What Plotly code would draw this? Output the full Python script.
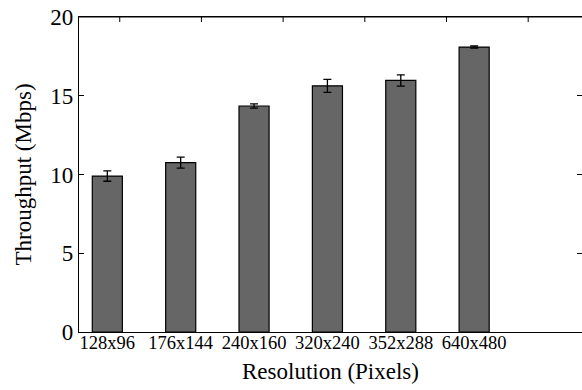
import plotly.graph_objects as go

# Throughput measured per video resolution (mean and spread)
resolutions = ["128x96", "176x144", "240x160", "320x240", "352x288", "640x480"]
throughput_mbps = [9.9, 10.75, 14.35, 15.63, 15.97, 18.09]
throughput_err = [0.33, 0.35, 0.13, 0.41, 0.36, 0.07]
y_ticks = [0, 5, 10, 15, 20]

FONT = "Liberation Serif"

fig = go.Figure()
fig.add_trace(go.Bar(
    x=list(range(len(resolutions))),
    y=throughput_mbps,
    width=0.41,
    marker=dict(color="#666666", line=dict(color="black", width=1.2)),
    error_y=dict(type="data", array=throughput_err, visible=True,
                 color="black", thickness=1.3, width=4),
))

# top frame line plus its short inward tick marks (paper coordinates)
fig.add_shape(type="line", xref="paper", yref="paper", x0=0, x1=1, y0=1, y1=1,
              line=dict(color="black", width=1.2))
top_tick_start, top_tick_step, top_tick_len = 0.081, 0.1624, 0.016
for k in range(6):
    xp = top_tick_start + k * top_tick_step
    fig.add_shape(type="line", xref="paper", yref="paper",
                  x0=xp, x1=xp, y0=1, y1=1 - top_tick_len,
                  line=dict(color="black", width=1))

fig.update_layout(
    width=582, height=390,
    margin=dict(l=79, r=0, t=17, b=58),
    plot_bgcolor="white", paper_bgcolor="white",
    showlegend=False,
    font=dict(family=FONT, color="black"),
    xaxis=dict(
        range=[-0.386, 6.47],
        tickmode="array",
        tickvals=list(range(len(resolutions))),
        ticktext=resolutions,
        ticks="", showgrid=False, zeroline=False,
        showline=True, linecolor="black", linewidth=1.2, mirror=True,
        tickfont=dict(size=18.5, family=FONT, color="black"),
        ticklabelstandoff=-6,
        title=dict(text="Resolution (Pixels)", font=dict(size=23, family=FONT, color="black"), standoff=10),
    ),
    yaxis=dict(
        range=[0, 20],
        tickmode="array", tickvals=y_ticks,
        ticks="inside", ticklen=5, tickcolor="black", tickwidth=1,
        showgrid=False, zeroline=False,
        showline=True, linecolor="black", linewidth=1.2, mirror="ticks",
        tickfont=dict(size=23, family=FONT, color="black"),
        title=dict(text="Throughput (Mbps)", font=dict(size=23, family=FONT, color="black"), standoff=12),
    ),
)

fig.write_html("out.html")
